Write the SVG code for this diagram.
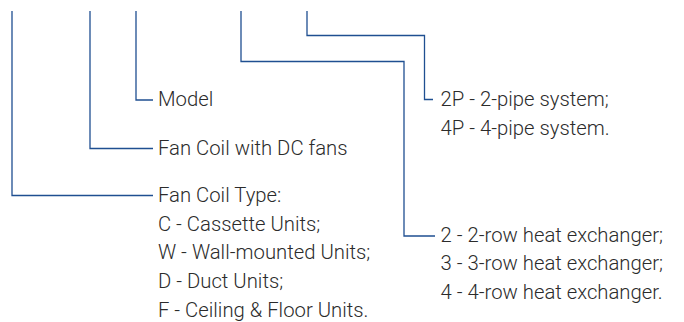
<svg xmlns="http://www.w3.org/2000/svg" width="684" height="322" viewBox="0 0 684 322">
<style>
.t{font-family:Roboto,"Liberation Sans",sans-serif;font-weight:300;font-size:20.3px;fill:#2b2b2b}
.c{fill:none;stroke:#1f4f91;stroke-width:1.3}
</style>
<rect width="684" height="322" fill="#fff"/>
<g id="connectors">
<path class="c" d="M12,11V195.5H153"/>
<path class="c" d="M90,11V148.5H153"/>
<path class="c" d="M136,11V100H153"/>
<path class="c" d="M241,11V61.5H404V236H435"/>
<path class="c" d="M307,11V35.5H424.5V99.5H433"/>
</g>
<g id="model"><text class="t" x="158" y="106">Model</text></g>
<g id="dc-fans"><text class="t" x="158" y="154.5">Fan Coil with DC fans</text></g>
<g id="type">
<text class="t" x="158" y="202">Fan Coil Type:</text>
<text class="t" x="158" y="230.7">C - Cassette Units;</text>
<text class="t" x="158" y="259.3">W - Wall-mounted Units;</text>
<text class="t" x="158" y="288">D - Duct Units;</text>
<text class="t" x="158" y="316.6">F - Ceiling &amp; Floor Units.</text>
</g>
<g id="pipe">
<text class="t" x="440.5" y="106">2P - 2-pipe system;</text>
<text class="t" x="440.5" y="134.6">4P - 4-pipe system.</text>
</g>
<g id="rows">
<text class="t" x="440.5" y="241.5">2 - 2-row heat exchanger;</text>
<text class="t" x="440.5" y="270.3">3 - 3-row heat exchanger;</text>
<text class="t" x="440.5" y="299">4 - 4-row heat exchanger.</text>
</g>
</svg>
